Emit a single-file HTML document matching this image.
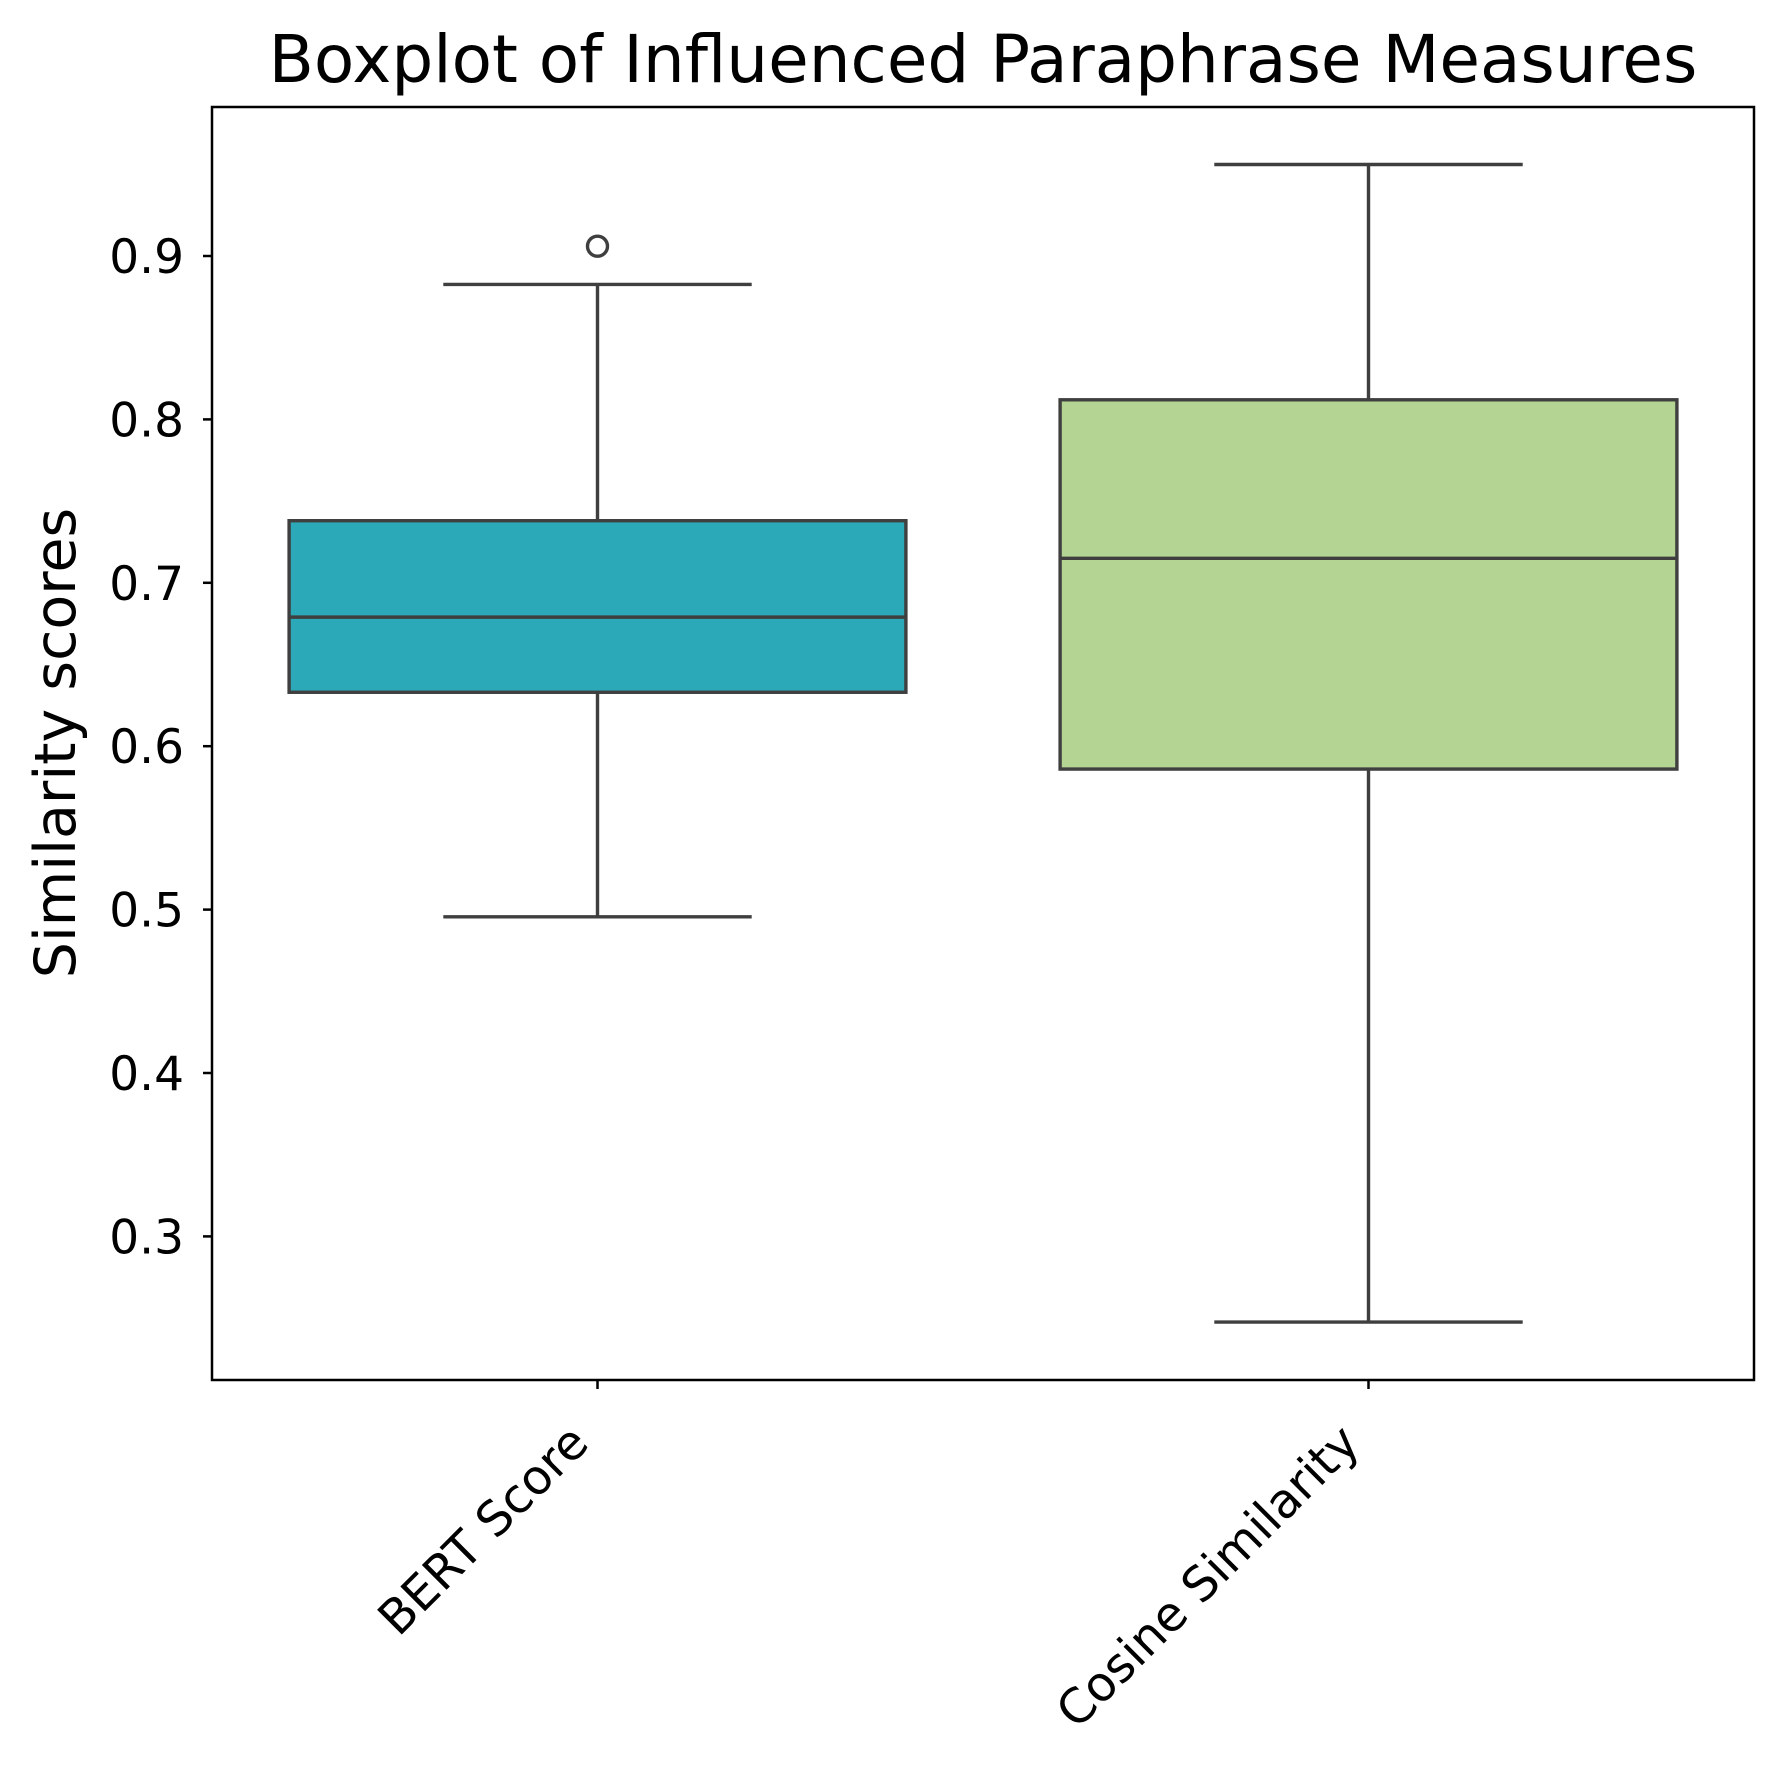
<!DOCTYPE html>
<html><head><meta charset="utf-8"><style>
html,body{margin:0;padding:0;background:#fff;}
svg{display:block;font-family:"DejaVu Sans","Liberation Sans",sans-serif;}
</style></head><body>
<svg id="chart" width="1783" height="1771" viewBox="0 0 1783 1771">
<rect width="1783" height="1771" fill="#fff"/>
<text x="983" y="82" font-size="66" text-anchor="middle" fill="#000">Boxplot of Influenced Paraphrase Measures</text>
<text transform="translate(75,743) rotate(-90)" font-size="57" text-anchor="middle" fill="#000">Similarity scores</text>
<g id="yticks"></g>
<g id="xticks"></g>
<g id="boxes"></g>
<rect x="212" y="107" width="1542" height="1273" fill="none" stroke="#000" stroke-width="2.5"/>
</svg>
<script>
const categories = ["BERT Score", "Cosine Similarity"];
const whiskerLow = [0.4956, 0.2476];
const q1 = [0.633, 0.586];
const median = [0.679, 0.715];
const q3 = [0.738, 0.812];
const whiskerHigh = [0.8826, 0.956];
const outliers = [[0.906], []];
const yTicks = [0.3, 0.4, 0.5, 0.6, 0.7, 0.8, 0.9];
const yTickLabels = ["0.3", "0.4", "0.5", "0.6", "0.7", "0.8", "0.9"];
const fills = ["#2ca9b8", "#b4d494"];

const NS = "http://www.w3.org/2000/svg";
const L = 212, R = 1754;
function y(v){ return 256 + (0.9 - v) * 1634; }
const band = (R - L) / categories.length;
function xc(i){ return L + band * (i + 0.5); }
function mk(tag, attrs, parent){
  const e = document.createElementNS(NS, tag);
  for (const k in attrs) e.setAttribute(k, attrs[k]);
  parent.appendChild(e);
  return e;
}
const yg = document.getElementById('yticks');
yTicks.forEach((v, i) => {
  const t = mk('line', {x1: L - 9, x2: L, y1: y(v), y2: y(v), stroke: '#000', 'stroke-width': 2.5}, yg);
  
  
  const tx = mk('text', {x: L - 28, y: y(v) + 17, 'font-size': 47, 'text-anchor': 'end', fill: '#000'}, yg);
  tx.textContent = yTickLabels[i];
  
  
});
const xg = document.getElementById('xticks');
categories.forEach((c, i) => {
  const x = xc(i);
  const t = mk('line', {x1: x, x2: x, y1: 1380, y2: 1389, stroke: '#000', 'stroke-width': 2.5}, xg);
  
  
  const tx = mk('text', {transform: `translate(${x - 31},${1421}) rotate(-45)`, 'font-size': 48, 'text-anchor': 'end', fill: '#000', dy: '0.72em'}, xg);
  tx.textContent = c;
  
  
});
const bg = document.getElementById('boxes');
const stroke = '#3f3f3f', sw = 3.4;
categories.forEach((c, i) => {
  const x = xc(i), bw = band * 0.8, cw = bw / 2;
  const g = mk('g', {}, bg);
  
  
  const w1 = mk('line', {x1: x, x2: x, y1: y(whiskerLow[i]), y2: y(q1[i]), stroke: stroke, 'stroke-width': sw}, g);
  
  
  const w2 = mk('line', {x1: x, x2: x, y1: y(q3[i]), y2: y(whiskerHigh[i]), stroke: stroke, 'stroke-width': sw}, g);
  
  
  const c1 = mk('line', {x1: x - cw/2, x2: x + cw/2, y1: y(whiskerLow[i]), y2: y(whiskerLow[i]), stroke: stroke, 'stroke-width': sw}, g);
  
  
  const c2 = mk('line', {x1: x - cw/2, x2: x + cw/2, y1: y(whiskerHigh[i]), y2: y(whiskerHigh[i]), stroke: stroke, 'stroke-width': sw}, g);
  
  
  const b = mk('rect', {x: x - bw/2, y: y(q3[i]), width: bw, height: y(q1[i]) - y(q3[i]), fill: fills[i], stroke: stroke, 'stroke-width': sw}, g);
  
  
  const m = mk('line', {x1: x - bw/2, x2: x + bw/2, y1: y(median[i]), y2: y(median[i]), stroke: stroke, 'stroke-width': sw}, g);
  
  
  outliers[i].forEach(o => {
    const p = mk('circle', {cx: x, cy: y(o), r: 10, fill: 'none', stroke: stroke, 'stroke-width': 3.4}, g);
    
    
  });
});
</script>
</body></html>
